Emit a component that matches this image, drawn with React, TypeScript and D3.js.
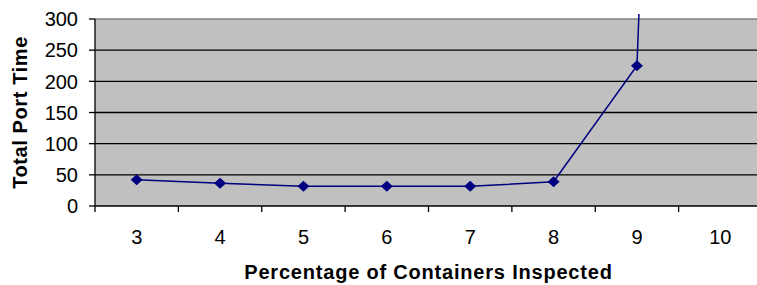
import React from "react";
import * as d3 from "d3";

const categories = [3, 4, 5, 6, 7, 8, 9, 10];
const portTime = [42, 36.5, 31.5, 31.5, 31.5, 39, 225, 3700];
const yTicks = [0, 50, 100, 150, 200, 250, 300];

export default function App() {
  const W = 757, H = 285;
  const left = 95, right = 762, top = 19, bottom = 206;
  const x = d3.scaleBand<number>().domain(categories).range([left, right]);
  const y = d3.scaleLinear().domain([0, 300]).range([bottom, top]);
  const cx = (c: number) => (x(c) as number) + x.bandwidth() / 2;
  const line = d3.line<number>().x((_, i) => cx(categories[i])).y((d) => y(d));
  const font = "Arial, 'Liberation Sans', sans-serif";
  const diamond = "M0,-5.5L6,0L0,5.5L-6,0Z";
  return (
    <svg width={W} height={H} style={{ position: "absolute", left: 0, top: 0, background: "#fff" }}>
      <defs>
        <clipPath id="clip">
          <rect x={left} y={14} width={W - left} height={bottom - 14} />
        </clipPath>
      </defs>
      <rect x={left} y={top} width={right - left} height={bottom - top} fill="#C0C0C0" />
      {yTicks.map((t) => (
        <g key={t}>
          {t > 0 && (
            <line x1={left} x2={W} y1={y(t)} y2={y(t)} stroke={t === 300 ? "#808080" : "#000"} strokeWidth={1.3} />
          )}
          <line x1={left - 6} x2={left} y1={y(t)} y2={y(t)} stroke="#000" strokeWidth={1.3} />
          <text x={78} y={y(t)} dy="0.36em" textAnchor="end" fontFamily={font} fontSize={20} fill="#000">
            {t}
          </text>
        </g>
      ))}
      <line x1={left} x2={left} y1={top} y2={bottom + 6} stroke="#000" strokeWidth={1.3} />
      <line x1={left} x2={W} y1={bottom} y2={bottom} stroke="#000" strokeWidth={1.3} />
      {categories.map((c) => (
        <g key={c}>
          <line x1={(x(c) as number) + x.bandwidth()} x2={(x(c) as number) + x.bandwidth()} y1={bottom} y2={bottom + 6} stroke="#000" strokeWidth={1.3} />
          <text x={cx(c)} y={237} dy="0.36em" textAnchor="middle" fontFamily={font} fontSize={20} fill="#000">
            {c}
          </text>
        </g>
      ))}
      <g clipPath="url(#clip)">
        <path d={line(portTime) || ""} fill="none" stroke="#000080" strokeWidth={1.5} />
      </g>
      {portTime.map((v, i) =>
        y(v) >= top ? (
          <path key={i} d={diamond} transform={`translate(${cx(categories[i])},${y(v)})`} fill="#000080" />
        ) : null
      )}
      <text
        transform={`translate(20,${(top + bottom) / 2}) rotate(-90)`}
        dy="0.36em"
        textAnchor="middle"
        fontFamily={font}
        fontSize={20}
        fontWeight="bold"
        letterSpacing={0.6}
        fill="#000"
      >
        Total Port Time
      </text>
      <text x={(left + right) / 2} y={272} dy="0.36em" textAnchor="middle" fontFamily={font} fontSize={20} fontWeight="bold" letterSpacing={0.8} fill="#000">
        Percentage of Containers Inspected
      </text>
    </svg>
  );
}
